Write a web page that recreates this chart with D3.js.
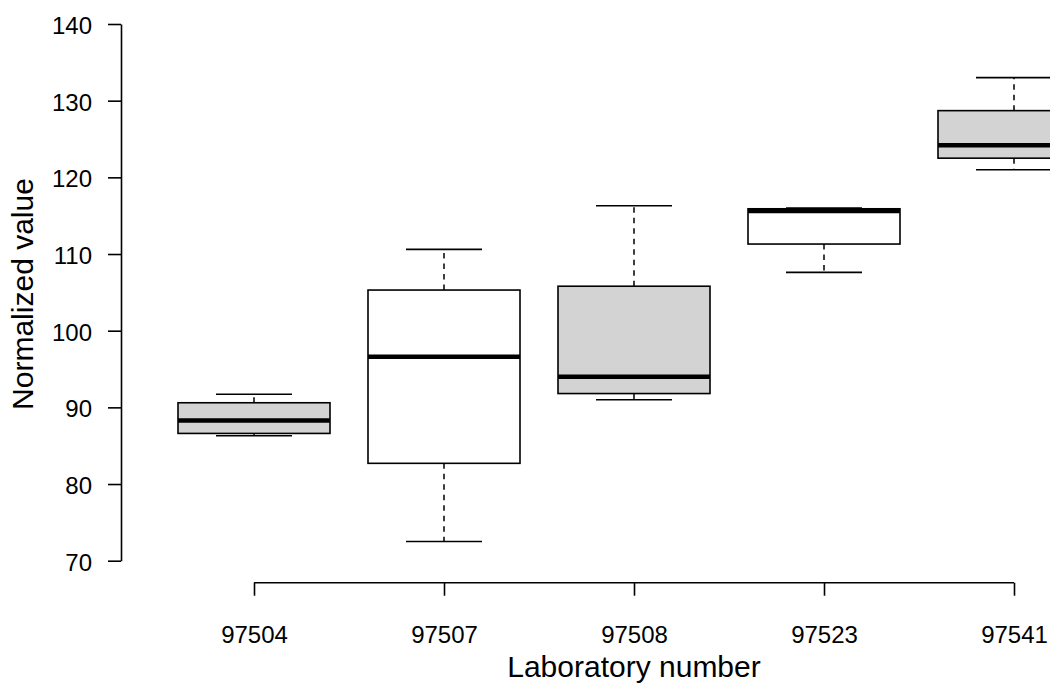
<!DOCTYPE html>
<html>
<head>
<meta charset="utf-8">
<script src="https://cdn.jsdelivr.net/npm/d3@7"></script>
<style>
  body { margin: 0; background: #fff; }
  svg { display: block; font-family: "Liberation Sans", Arial, sans-serif; }
</style>
</head>
<body>
<script>
// laboratories and their box statistics
const labs = ['97504', '97507', '97508', '97523', '97541'];
const whiskerLow = [86.3, 72.5, 91.0, 107.6, 121.0];
const q1 = [86.6, 82.7, 91.8, 111.3, 122.5];
const median = [88.3, 96.6, 94.0, 115.6, 124.2];
const q3 = [90.6, 105.3, 105.8, 115.9, 128.7];
const whiskerHigh = [91.7, 110.6, 116.3, 116.0, 133.0];
const yTicks = [70, 80, 90, 100, 110, 120, 130, 140];

const width = 1050;
const height = 685;

// plot region (R style: x from 0.3 to 5.7)
const x = d3.scaleLinear().domain([0.3, 5.7]).range([121, 1147]);
const y = d3.scaleLinear().domain([70, 140]).range([560.7, 24]);

const boxW = 0.4;   // half box width in x units
const capW = 0.2;   // half cap width

const svg = d3.select('body').append('svg')
    .attr('width', width)
    .attr('height', height);

const data = labs.map(function(d, i){
    return {
        lab: d, i: i + 1,
        lo: whiskerLow[i], q1: q1[i], med: median[i], q3: q3[i], hi: whiskerHigh[i]
    };
});

const g = svg.selectAll('g.box')
    .data(data)
    .enter()
    .append('g')
    .attr('class', 'box');

// whiskers (dashed)
g.append('line')
    .attr('x1', d => x(d.i)).attr('x2', d => x(d.i))
    .attr('y1', d => y(d.q3)).attr('y2', d => y(d.hi))
    .attr('stroke', '#000').attr('stroke-width', 1.5)
    .attr('stroke-dasharray', '5.5,5');
g.append('line')
    .attr('x1', d => x(d.i)).attr('x2', d => x(d.i))
    .attr('y1', d => y(d.q1)).attr('y2', d => y(d.lo))
    .attr('stroke', '#000').attr('stroke-width', 1.5)
    .attr('stroke-dasharray', '5.5,5');

// caps
g.append('line')
    .attr('x1', d => x(d.i - capW)).attr('x2', d => x(d.i + capW))
    .attr('y1', d => y(d.hi)).attr('y2', d => y(d.hi))
    .attr('stroke', '#000').attr('stroke-width', 1.6);
g.append('line')
    .attr('x1', d => x(d.i - capW)).attr('x2', d => x(d.i + capW))
    .attr('y1', d => y(d.lo)).attr('y2', d => y(d.lo))
    .attr('stroke', '#000').attr('stroke-width', 1.6);

// boxes, alternating lightgray / white
g.append('rect')
    .attr('x', d => x(d.i - boxW))
    .attr('y', d => y(d.q3))
    .attr('width', d => x(d.i + boxW) - x(d.i - boxW))
    .attr('height', d => y(d.q1) - y(d.q3))
    .attr('fill', d => d.i % 2 === 1 ? '#d3d3d3' : '#ffffff')
    .attr('stroke', '#000')
    .attr('stroke-width', 1.6);

// medians
g.append('line')
    .attr('x1', d => x(d.i - boxW)).attr('x2', d => x(d.i + boxW))
    .attr('y1', d => y(d.med)).attr('y2', d => y(d.med))
    .attr('stroke', '#000').attr('stroke-width', 4.5);

// y axis
const yAxis = svg.append('g')
    .attr('transform', 'translate(121,0)')
    .call(d3.axisLeft(y).tickValues(yTicks).tickSize(13).tickSizeOuter(0).tickPadding(16));
yAxis.selectAll('line, path').attr('stroke', '#000').attr('stroke-width', 1.6);
yAxis.selectAll('text')
    .attr('font-size', '24px')
    .attr('fill', '#000')
    .attr('font-family', '"Liberation Sans", Arial, sans-serif')
    .attr('dy', '0.4em');

// x axis: R draws the line only between first and last tick
const xAxis = svg.append('g')
    .attr('transform', 'translate(0,582.7)')
    .call(d3.axisBottom(x)
        .tickValues(d3.range(1, labs.length + 1))
        .tickFormat(d => labs[d - 1])
        .tickSize(13).tickSizeOuter(0).tickPadding(30));
xAxis.select('path.domain').remove();
xAxis.append('line')
    .attr('x1', x(1)).attr('x2', x(labs.length))
    .attr('y1', 0).attr('y2', 0);
xAxis.selectAll('line').attr('stroke', '#000').attr('stroke-width', 1.6);
xAxis.selectAll('text')
    .attr('font-size', '24px')
    .attr('fill', '#000')
    .attr('font-family', '"Liberation Sans", Arial, sans-serif');

// axis titles
svg.append('text')
    .attr('x', x(3))
    .attr('y', 677)
    .attr('text-anchor', 'middle')
    .attr('font-size', '30px')
    .text('Laboratory number');

svg.append('text')
    .attr('transform', 'translate(33,294) rotate(-90)')
    .attr('text-anchor', 'middle')
    .attr('font-size', '30px')
    .text('Normalized value');
</script>
</body>
</html>
